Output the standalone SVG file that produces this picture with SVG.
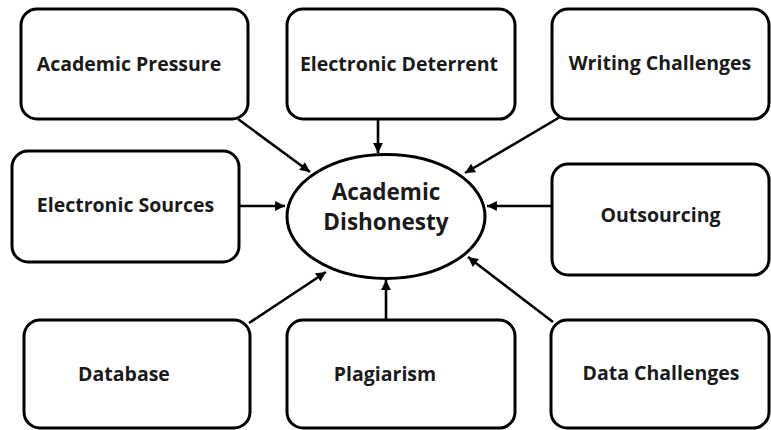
<svg xmlns="http://www.w3.org/2000/svg" width="771" height="430" viewBox="0 0 771 430">
<style>
.box{fill:#fff;stroke:#000;stroke-width:3}
.lbl{font-family:"Open Sans","Liberation Sans",sans-serif;font-weight:bold;font-size:19.5px;fill:#1a1a1a;text-anchor:middle}
.big{font-size:22.5px}
.conn line{stroke:#000;stroke-width:2.6}
</style>
<defs>
<marker id="arr" viewBox="0 0 10 10" refX="10" refY="5" markerWidth="4.4" markerHeight="3.8" orient="auto" markerUnits="strokeWidth">
<path d="M0,0 L10,5 L0,10 z" fill="#000"/>
</marker>
</defs>
<rect width="771" height="430" fill="#fff"/>
<g class="conn">
<line x1="238" y1="119" x2="310" y2="172" marker-end="url(#arr)"/>
<line x1="378" y1="119" x2="378" y2="153" marker-end="url(#arr)"/>
<line x1="560" y1="117" x2="465" y2="173" marker-end="url(#arr)"/>
<line x1="240" y1="206" x2="285" y2="206" marker-end="url(#arr)"/>
<line x1="552" y1="206" x2="487" y2="206" marker-end="url(#arr)"/>
<line x1="249" y1="323" x2="326" y2="272" marker-end="url(#arr)"/>
<line x1="386" y1="320" x2="386" y2="280" marker-end="url(#arr)"/>
<line x1="553" y1="322" x2="468" y2="257" marker-end="url(#arr)"/>
</g>
<g id="academic-pressure"><rect class="box" x="21" y="9" width="227" height="110" rx="16"/><text class="lbl" x="129" y="71">Academic Pressure</text></g>
<g id="electronic-deterrent"><rect class="box" x="287" y="9" width="228" height="110" rx="16"/><text class="lbl" x="399" y="71">Electronic Deterrent</text></g>
<g id="writing-challenges"><rect class="box" x="552" y="9" width="217" height="110" rx="16"/><text class="lbl" x="660" y="70">Writing Challenges</text></g>
<g id="electronic-sources"><rect class="box" x="12" y="151" width="227" height="111" rx="16"/><text class="lbl" x="125.5" y="212">Electronic Sources</text></g>
<g id="academic-dishonesty"><ellipse class="box" cx="386" cy="216.5" rx="99" ry="62"/><text class="lbl big" x="386" y="200">Academic</text><text class="lbl big" x="386" y="230">Dishonesty</text></g>
<g id="outsourcing"><rect class="box" x="552" y="164" width="217" height="111" rx="16"/><text class="lbl" x="660.5" y="222">Outsourcing</text></g>
<g id="database"><rect class="box" x="24" y="320" width="226" height="108" rx="16"/><text class="lbl" x="124" y="381">Database</text></g>
<g id="plagiarism"><rect class="box" x="287" y="320" width="228" height="108" rx="16"/><text class="lbl" x="385" y="381">Plagiarism</text></g>
<g id="data-challenges"><rect class="box" x="551" y="320" width="218" height="108" rx="16"/><text class="lbl" x="661" y="380">Data Challenges</text></g>
</svg>
